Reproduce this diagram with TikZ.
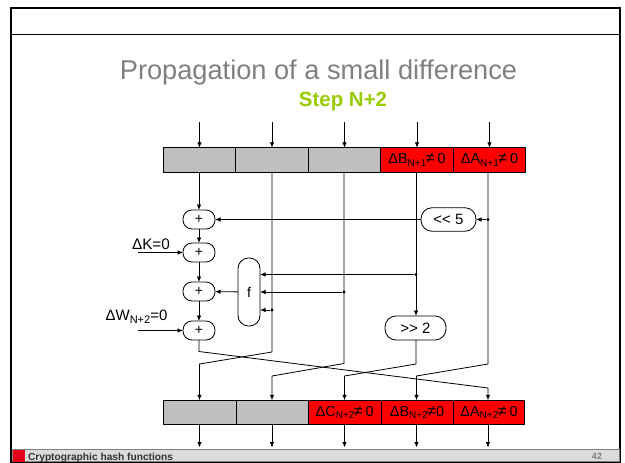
\documentclass[tikz,border=0pt]{standalone}
\usepackage{fontspec}
\setmainfont{Liberation Sans}
\usetikzlibrary{positioning,arrows.meta}

\newcommand{\low}[2][10]{\raisebox{-2.5pt}{\fontsize{#1}{11}\selectfont #2}}
\newcommand{\neqz}[1][3pt]{\kern-0.5pt{\fontsize{16}{16}\selectfont ≠}\kern#1 0}

\begin{document}
\begin{tikzpicture}[x=1pt, y=-1pt, >={Latex[length=5.5pt,width=4.5pt]}, line width=0.8pt,
    every node/.style={inner sep=0pt, outer sep=0pt},
    greycell/.style={rectangle, draw, fill=gray!50!white, minimum height=24.5pt},
    redcell/.style={rectangle, draw, fill=red, minimum height=24.5pt, font=\fontsize{14.5}{16}\selectfont},
    addbox/.style={rectangle, draw, fill=white, rounded corners=9pt, minimum width=32pt, minimum height=19pt, font=\fontsize{14}{16}\selectfont},
    shiftbox/.style={rectangle, draw, fill=white, rounded corners=11pt, minimum height=23.5pt, font=\fontsize{15}{17}\selectfont},
    dot/.style={circle, fill=black, minimum size=3.4pt}]

    \useasboundingbox (0,0) rectangle (625,463);

    % Slide frame
    \node (page)[rectangle, draw, line width=2pt, minimum width=609pt, minimum height=455pt] at (315.5,235) {};
    \draw[line width=1pt] (11,34.5) -- (620,34.5);

    % Footer
    \node (bar)[rectangle, fill=gray!28!white, draw=gray, minimum width=607pt, minimum height=12pt] at (316,455.5) {};
    \node (mark)[rectangle, fill=red!90!blue, minimum width=12pt, minimum height=12pt] at (19,455.5) {};
    \node (foot)[right, font=\bfseries\fontsize{10.2}{11}\selectfont, text=black!80] at (28,457.5) {Cryptographic hash functions};
    \node (num)[font=\bfseries\fontsize{9}{10}\selectfont, text=gray] at (597,456.5) {42};

    % Titles
    \node (title)[font=\fontsize{27.2}{30}\selectfont, text=gray] at (318.5,72.5) {Propagation of a small difference};
    \node (step)[font=\bfseries\fontsize{20.5}{23}\selectfont, text={rgb,255:red,153;green,204;blue,0}] at (343,101.5) {Step N+2};

    % Top register
    \node (T1)[greycell, minimum width=72.5pt] at (199.5,160) {};
    \node (T2)[greycell, minimum width=72.5pt] at (272,160) {};
    \node (T3)[greycell, minimum width=72.5pt] at (344.5,160) {};
    \node (T4)[redcell, minimum width=72.5pt] at (417,160) {ΔB\low{N+1}\neqz};
    \node (T5)[redcell, minimum width=72.5pt] at (489.5,160) {ΔA\low{N+1}\neqz};

    % Bottom register
    \node (B1)[greycell, minimum width=73pt] at (200,412.5) {};
    \node (B2)[greycell, minimum width=72pt] at (272.5,412.5) {};
    \node (B3)[redcell, minimum width=72.5pt] at (344.75,412.5) {ΔC\low{N+2}\neqz};
    \node (B4)[redcell, minimum width=72pt] at (417,412.5) {ΔB\low{N+2}\neqz[0pt]};
    \node (B5)[redcell, minimum width=71.5pt] at (489,412.5) {ΔA\low{N+2}\neqz};

    % Adders and boxes
    \node (P1)[addbox] at (199,219.5) {+};
    \node (P2)[addbox] at (199,252.5) {+};
    \node (P3)[addbox] at (199,291.5) {+};
    \node (P4)[addbox] at (199,330.5) {+};
    \node (F)[addbox, rounded corners=10.5pt, minimum width=22pt, minimum height=68pt] at (249,292) {f};
    \node (L5)[shiftbox, minimum width=55pt] at (448.5,219.5) {<{}< 5};
    \node (R2)[shiftbox, minimum width=61pt, minimum height=24pt] at (415.5,328) {>{}> 2};

    % Labels on the inputs
    \node (K)[font=\fontsize{15.3}{17}\selectfont] at (151,244) {ΔK=0};
    \node (W)[font=\fontsize{15}{17}\selectfont] at (136.5,317) {ΔW\low[11]{N+2}=0};

    % Free ends
    \coordinate (i1) at (199.5,122);
    \coordinate (i2) at (272,122);
    \coordinate (i3) at (344.5,122);
    \coordinate (i4) at (417,122);
    \coordinate (i5) at (489.5,122);
    \coordinate (o1) at (199.5,447.5);
    \coordinate (o2) at (272,447.5);
    \coordinate (o3) at (344.5,447.5);
    \coordinate (o4) at (416.5,447.5);
    \coordinate (o5) at (488,447.5);
    \coordinate (kin) at (138,252.5);
    \coordinate (win) at (138,330.5);

    % Branch points
    \node (D1)[dot] at (488,219.5) {};
    \node (D2)[dot] at (416,274.5) {};
    \node (D3)[dot] at (344,292) {};
    \node (D4)[dot] at (272,310) {};

    % Edges into the top register
    \draw[->] (i1) -- (T1);
    \draw[->] (i2) -- (T2);
    \draw[->] (i3) -- (T3);
    \draw[->] (i4) -- (T4);
    \draw[->] (i5) -- (T5);

    % Edges out of the bottom register
    \draw[->] (B1.south -| o1) -- (o1);
    \draw[->] (B2.south -| o2) -- (o2);
    \draw[->] (B3.south -| o3) -- (o3);
    \draw[->] (B4.south -| o4) -- (o4);
    \draw[->] (B5.south -| o5) -- (o5);

    % Adder chain
    \draw[->] (T1.south -| P1) -- (P1);
    \draw[->] (P1) -- (P2);
    \draw[->] (P2) -- (P3);
    \draw[->] (P3) -- (P4);
    \draw[->] (kin) -- (P2);
    \draw[->] (win) -- (P4);
    \draw[->] (L5) -- (P1);
    \draw[->] (F) -- (P3);

    % Inputs of f and of the shifts
    \draw[->] (D1) -- (L5);
    \draw[->] (D2) -- (D2 -| F.east);
    \draw[->] (D3) -- (D3 -| F.east);
    \draw[->] (D4) -- (D4 -| F.east);
    \draw[->] (T4.south -| D2) -- (R2.north -| D2);

    % Rotation of the words
    \draw[->] (P4.south) -- ++(0,11.5) -- (488,388) -- (B5.north -| o5);
    \draw[->] (T2) -- (272,352) -- (199.5,364) -- (B1.north -| o1);
    \draw[->] (T3.south -| D3) -- (344,363.5) -- (272,376) -- (B2.north -| o2);
    \draw[->] (R2.south -| D2) -- (416,364) -- (344.5,376) -- (B3.north -| o3);
    \draw[->] (T5.south -| D1) -- (488,364) -- (416.5,376) -- (B4.north -| o4);

\end{tikzpicture}
\end{document}
